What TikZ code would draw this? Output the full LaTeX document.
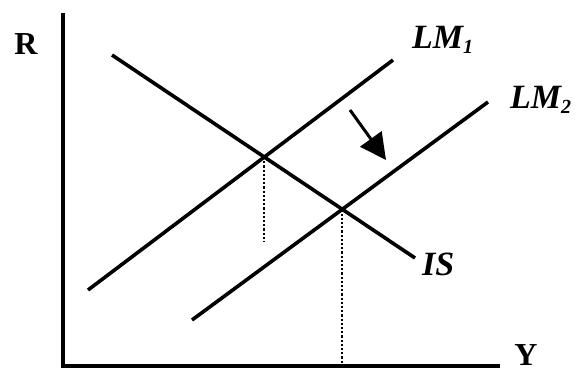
\documentclass[tikz,border=0pt]{standalone}
\usepackage{fontspec}
\setmainfont{Liberation Serif}
\usetikzlibrary{arrows.meta}
\begin{document}
\begin{tikzpicture}[x=1pt,y=-1pt,
  curve/.style={line width=3.6pt},
  axis/.style={line width=4.5pt},
  guide/.style={line width=2.2pt,dotted},
  lbl/.style={font=\fontsize{34}{34}\selectfont\bfseries\itshape,inner sep=0pt},
  axlbl/.style={font=\fontsize{32}{32}\selectfont\bfseries,inner sep=0pt}]
\useasboundingbox (0,0) rectangle (588,375);
% axes
\coordinate (ytop) at (63,13);
\coordinate (orig) at (63,366);
\coordinate (xend) at (500,366);
\draw[axis] (ytop) -- (orig) -- (xend);
\node[axlbl] (R) at (26,44) {R};
\node[axlbl] (Y) at (526,355) {Y};
% curves
\coordinate (lm1a) at (88,290);
\coordinate (lm1b) at (393,60);
\coordinate (lm2a) at (192,320);
\coordinate (lm2b) at (488,102);
\coordinate (isa) at (112,55);
\coordinate (isb) at (415,258);
\draw[curve] (lm1a) -- (lm1b);
\draw[curve] (lm2a) -- (lm2b);
\draw[curve] (isa) -- (isb);
\node[lbl,anchor=west] (LM1) at (412,40) {LM\textsubscript{\fontsize{20}{20}\selectfont 1}};
\node[lbl,anchor=west] (LM2) at (510,100) {LM\textsubscript{\fontsize{20}{20}\selectfont 2}};
\node[lbl,anchor=west] (IS) at (422,264) {IS};
% intersections and guides
\coordinate (e1) at (intersection of lm1a--lm1b and isa--isb);
\coordinate (e2) at (intersection of lm2a--lm2b and isa--isb);
\coordinate (e1b) at (e1 |- 0,242);
\coordinate (e2b) at (e2 |- orig);
\draw[guide] (e1) -- (e1b);
\draw[guide] (e2) -- (e2b);
% shift arrow
\coordinate (arra) at (350,110);
\coordinate (arrb) at (386,160);
\draw[line width=3pt,-{Triangle[length=26pt,width=26pt]}] (arra) -- (arrb);
\end{tikzpicture}
\end{document}
